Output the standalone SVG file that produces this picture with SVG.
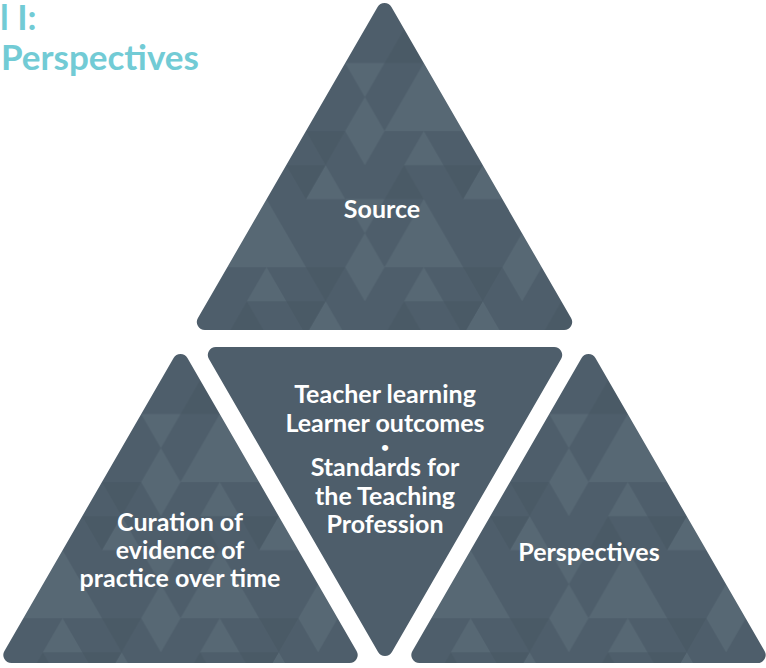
<svg xmlns="http://www.w3.org/2000/svg" width="766" height="668" viewBox="0 0 766 668">
<style>
.lbl{font-family:Lato,"Open Sans","DejaVu Sans",sans-serif;font-weight:700;font-size:25px;fill:#ffffff;text-anchor:middle}
.ttl{font-family:Lato,"Open Sans","DejaVu Sans",sans-serif;font-weight:700;font-size:35px;fill:#72cbd5}
.bul{font-size:14px}
.lt{fill:#576874}
.dk{fill:#4a5a66}
</style>
<defs>
<pattern id="tri" patternUnits="userSpaceOnUse" x="0" y="0" width="157.2" height="136.12">
<rect width="157.2" height="136.12" fill="#4e5e6b"/>
<polygon class="lt" points="39.3,0 58.95,34.03 19.65,34.03"/>
<polygon class="lt" points="117.9,0 157.2,0 137.55,34.03"/>
<polygon class="lt" points="98.25,34.03 117.9,68.06 78.6,68.06"/>
<polygon class="lt" points="39.3,68.06 78.6,136.12 0,136.12"/>
<polygon class="lt" points="117.9,68.06 157.2,68.06 137.55,102.09"/>
<polygon class="lt" points="137.55,102.09 157.2,136.12 117.9,136.12"/>
<polygon class="dk" points="58.95,34.03 98.25,34.03 78.6,68.06"/>
<polygon class="dk" points="0,68.06 19.65,34.03 39.3,68.06"/>
<polygon class="dk" points="78.6,0 117.9,0 98.25,34.03"/>
</pattern>
<path id="upS" d="M -6.93 12 A 8 8 0 0 1 6.93 12 L 176.07 305 A 8 8 0 0 1 169.14 317 L -169.14 317 A 8 8 0 0 1 -176.07 305 Z"/>
</defs>
<g id="title">
<text class="ttl" x="0" y="30">l I:</text>
<text class="ttl" x="1" y="70">Perspectives</text>
</g>
<g id="connectors"></g>
<g id="source">
<path transform="translate(384.5,-5)" fill="url(#tri)" d="M -6.93 12 A 8 8 0 0 1 6.93 12 L 186.57 323.1 A 8 8 0 0 1 179.64 335.1 L -179.64 335.1 A 8 8 0 0 1 -186.57 323.1 Z"/>
<text class="lbl" x="382" y="218">Source</text>
</g>
<g id="curation">
<use href="#upS" transform="translate(180.5,346)" fill="url(#tri)"/>
<text class="lbl" x="180" y="531">Curation of</text>
<text class="lbl" x="180" y="559">evidence of</text>
<text class="lbl" x="180" y="587">practice over time</text>
</g>
<g id="centre">
<use href="#upS" transform="translate(385,664) scale(1,-1)" fill="#4e5e6b"/>
<text class="lbl" x="385" y="403">Teacher learning</text>
<text class="lbl" x="385" y="432">Learner outcomes</text>
<text class="lbl bul" x="385" y="452">•</text>
<text class="lbl" x="385" y="476">Standards for</text>
<text class="lbl" x="385" y="505">the Teaching</text>
<text class="lbl" x="385" y="533">Profession</text>
</g>
<g id="perspectives">
<use href="#upS" transform="translate(588.5,346)" fill="url(#tri)"/>
<text class="lbl" x="589" y="561">Perspectives</text>
</g>
</svg>
